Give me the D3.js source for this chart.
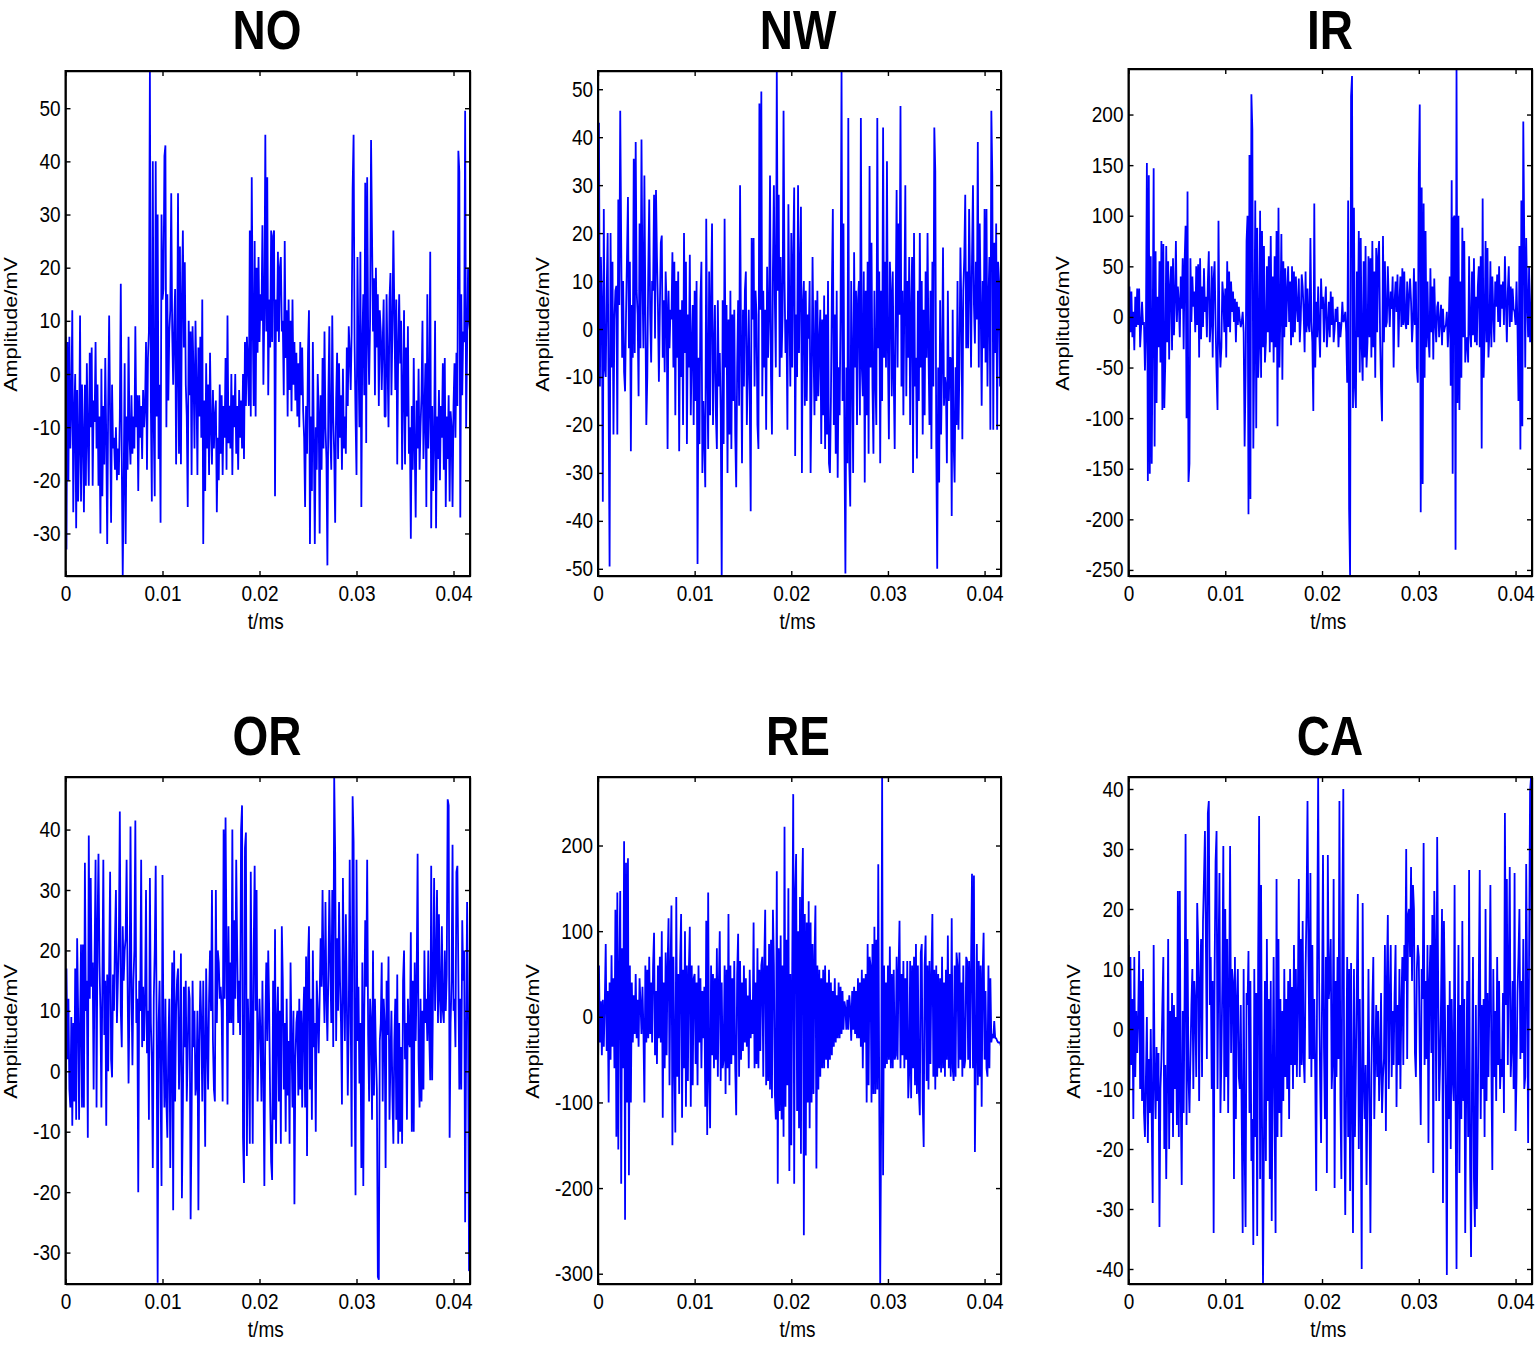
<!DOCTYPE html>
<html lang="en">
<head>
  <meta charset="UTF-8">
  <title>Vibration signals</title>
  <script src="https://d3js.org/d3.v7.min.js"></script>
  <style>
    body { margin: 0; background: #fff; }
    svg { display: block; font-family: "Liberation Sans", Arial, sans-serif; }
    .tick line, .domain { stroke: #000; stroke-width: 1.4px; }
  </style>
</head>
<body>
  <svg id="chart" width="1536" height="1345"></svg>
  <script>
    // one row = 0.001 ms
    const noValues = [
      7,-33,6,-20,7,-14,-6,12,-26,-8,
      0,-29,-3,-24,-14,11,-24,-2,-12,-26,
      -2,-21,2,-12,-21,4,-10,5,-21,-5,
      -9,6,-14,-2,-21,-8,-30,1,-23,-6,
      -17,3,-12,-32,-6,11,-8,-28,-2,-14,
      -12,-18,-10,-20,-14,-19,-8,17,-16,-38,
      -20,2,-32,-8,-18,7,-12,-17,-4,-15,
      -8,-14,9,-10,-4,-22,-4,-12,-6,-16,
      -3,-10,-6,6,-18,3,8,57,-6,-24,
      40,-10,-23,40,-8,30,-16,-2,-28,30,
      14,16,41,43,-10,15,-5,8,12,34,
      8,-2,9,16,-17,0,34,-15,24,-17,
      14,27,5,21,-2,-8,-25,10,-4,8,
      -19,9,0,-14,10,-2,-19,5,-8,7,
      -12,14,-32,-5,-22,2,-14,-2,-19,4,
      -10,-17,-3,-14,-8,-5,-26,-12,-20,-2,
      -15,-4,-19,-6,-12,3,-18,11,-13,-6,
      -14,0,-19,-4,-10,0,-15,-6,-18,-3,
      -12,-5,-14,0,-16,6,-6,7,2,-6,
      27,-8,37,10,-6,25,-8,20,4,22,
      6,15,10,28,-2,12,45,8,37,-4,
      14,5,27,6,26,27,-23,14,8,23,
      6,20,22,8,10,-4,25,3,12,-8,
      14,-3,10,-7,14,-2,6,-5,4,-8,
      2,-10,6,-4,5,-7,-12,-25,-6,-15,
      4,12,-32,-8,-22,6,-12,-32,-10,-18,
      0,-7,-30,-4,-18,3,-14,8,-10,-16,
      -36,-4,9,-12,-18,11,-8,-15,-28,-5,
      4,-16,2,-12,-4,-18,1,-14,-8,-15,
      5,-6,9,4,-3,8,35,45,6,-8,
      -19,22,4,-10,23,-25,6,15,-4,36,
      -13,37,8,-2,10,44,26,8,18,-4,
      20,5,15,-6,12,8,-3,6,14,-8,
      -8,15,2,-10,14,19,-4,8,27,12,
      -3,14,-17,5,15,2,10,-18,-4,12,
      -17,5,-8,9,-15,-10,-31,-6,-18,3,
      -14,-27,-5,-14,1,-18,-10,-4,10,-16,
      -8,2,-25,15,-14,-6,23,-29,-6,-22,
      -12,10,-29,-8,-16,-3,-20,-6,-12,2,
      -18,3,-25,-8,-16,-4,-24,-7,-10,-25,
      -6,2,-12,4,-6,42,38,-27,15,-4,
      8,6,49.5,-10,5,20,10,8,9,8
    ];

    const nwValues = [
      20,43,-12,15,5,-36,25,-8,-10,8,
      20,-15,-49.5,20,-8,14,-22,2,8,9,
      -22,27,5,45.5,18,-6,10,-9,-13,3,
      15,27.5,-4,14,-25.5,5,-6,35.5,-5,39,
      8,3,-14,22,-4,39.5,10,-4,32,5,
      -20,-10,12,27,3,-7,10,8,28,-2,
      29,15,5,-11,4,18,19.5,-6,6,-9,
      12,5,-25,8,-4,4,2,16,-8,14,
      -18,10,-6,12,-25.5,4,-10,6,-20,20,
      -5,14,-24,3,-8,15.5,-18,-4,5,-20,
      8,-15,10,-49,-6,-24,6,14,-30,-15,
      -23,-33,23,-8,-25,12,-18,6,22,-20,
      -5,5,-18,-25,6,-12,-5,-18,-52,6,
      -24,23,-8,5,-30,2,-22,8,-25,3,
      -15,4,-22,-33,-8,6,-16,30,-3,-28,
      4,-12,8,12,-20,-8,4,-14,-38,19,
      2,19,-12,8,3,-20,-25,47,4,49.5,
      -14,8,-8,4,-21,13,-6,3,32,-10,
      -22,12,30,6,-8,54,8,28,-10,15,
      -6,3,45.5,10,-5,2,-21,26,4,-12,
      20,-8,15,29.5,-26.5,3,-10,30,-5,12,
      25.5,-30,5,10,-16,8,-15,3,-2,10,
      -30,-12,15,-4,-18,6,-15,8,-14,-3,
      4,-24,2,-18,7,-25,3,-22,10,-28,
      -30,-15,8,25,-20,3,-26,8,-31,-8,
      -18,4,54,-15,22,-24,-51,-8,-28,44,
      -28,-37,10,-6,-30,16,-8,8,-20,6,
      10,-18,44,-8,-14,12,-32,8,-18,14,
      -26,34,-8,18,-12,-26,8,-10,-20,44,
      -4,12,-28,8,-15,42,-6,14,-8,35,
      -5,-23,14,8,-14,12,-10,-25,4,29,
      -8,22,3,46.5,-12,8,-18,6,30,-14,
      10,-6,15,-20,4,15,-30,20,-12,-6,
      -27,8,-15,20,-8,10,-22,4,-18,12,
      -6,20,-5,-20,8,-25,14,-12,42,33,
      -24,-50,-8,-32,6,-22,-8,17,-16,-10,
      -12,-28,8,-15,-6,-6,-39,4,-24,-32,
      -8,-20,10,-21,-8,17,4,-23,8,15,
      28,-4,12,-4,25,10,-8,15,30,5,
      -3,14,2,39,-8,22,5,-16,10,-4,
      25,-7,25,-12,6,15,-21,45.5,32,-21,
      18,-5,22,-21,14,10,-12,5,-8,-21
    ];

    const irValues = [
      -32,30,-15,25,-20,5,-33,20,-10,28,
      -8,28,-30,-10,15,-8,-5,-53,-12,152,
      -162,140,-155,60,-145,-12,147,-128,65,-85,
      20,-30,55,-45,75,-92,72,-90,-45,70,
      -25,55,-42,30,50,-33,58,-18,18,75,
      -5,30,15,-20,40,8,58,-32,55,90,
      -100,124,-163,-145,58,-5,40,10,25,-15,
      50,-8,52,-40,58,-22,30,-10,48,5,
      20,-20,35,65,-25,-5,50,-40,38,55,
      -8,-55,-92,95,-20,-50,-30,35,20,-15,
      28,-40,55,-10,45,-15,35,5,25,-5,
      18,-25,15,-8,10,-3,-10,-5,5,-15,
      -128,-58,75,100,-195,160,-180,220,185,-130,
      -30,115,-110,88,-60,-30,105,-60,85,-30,
      70,-45,-25,50,-15,60,-35,80,-25,40,
      -45,60,-30,85,-108,108,-50,5,82,-62,
      55,-20,48,-10,25,50,-5,35,-28,50,
      -20,45,-15,40,10,-5,38,-25,-3,42,
      30,5,-35,45,-15,28,-8,-15,78,-5,
      -25,-93,112,-50,15,-20,30,-12,-40,38,
      8,20,-25,12,30,-30,-10,15,-20,25,
      -8,20,-25,-12,8,-5,10,-30,-5,-20,
      -8,15,-5,-3,5,-15,-65,115,-190,-255,
      218,238,-90,108,-70,-90,45,-20,85,-55,
      78,-30,-63,55,-40,70,-50,-25,60,-20,
      58,-40,75,-30,45,-60,68,-15,60,75,
      -20,-70,-103,80,-25,55,-10,-5,50,15,
      -10,25,8,40,-50,15,35,5,42,-30,
      15,40,-10,48,-8,45,-5,-12,35,-8,
      20,38,15,-25,-5,48,-8,35,-50,-65,
      142,210,-193,128,-165,112,-60,85,-30,35,
      -20,-40,48,-15,30,-42,38,-5,-25,10,
      15,-20,-5,12,-28,8,-15,-10,-8,5,
      -30,-5,40,-68,135,-155,98,100,-230,245,
      -85,100,-92,35,-60,88,-20,75,-45,-25,
      -20,-45,60,-15,-30,45,-18,58,-25,20,
      -28,30,50,-30,60,-130,117,-60,-15,75,
      -25,68,-40,-15,55,-30,40,5,-25,35,
      10,42,-5,50,-10,32,8,35,-8,60,
      15,-25,25,50,-10,30,-5,28,8,5,
      -8,35,-10,-83,70,-131,115,-108,193,75,
      -50,78,15,-20,50,-25,-5,48,-10,45
    ];

    const orValues = [
      -3,17,2,12,-3,-6,9,-9,8,-5,
      17,-8,22,10,-8,8,21,-6,21,-6,
      34.5,10,15,-11,39,12,32,14,18,-3,
      19,35,-6,24,36,18,10,-6,15,35,
      6,15,-9,16,0,17,33,2,-1,16,
      10,22,30,8,15,22,43,10,4,24,
      15,20,22,35,15,-2,12,40.5,14,1,
      15,20,41.5,8,12,-20,15,10,35,4,
      14,5,12,30,3,10,-8,32,8,2,
      -16,12,20,34,6,-35,8,15,-2,-19,
      32.5,5,-6,12,-5,-11,4,12,-16,3,
      18,-23,20,-5,10,15,17,-3,5,19.5,
      -21,-6,14,4,15,-5,3,14,12,-24.5,
      -8,15,4,10,-4,-2,10,-23,5,15,
      8,-5,15,3,-12.5,17,5,-3,12,20,
      10,30,5,-3,-5,30,8,20,18,12,
      14,10,-5,40,12,42,20,-5.5,24,8,
      18,8,40,6,25,12,35,20,8,15,
      6,40,44,-11,-18.5,37,39.5,-14,12,5,
      -12,33,8,-12,20,34,10,30,-5,4,
      12,6,-5,15,0,-19,8,18,5,20,
      10,-5,-15,-18,15,-8,23.5,-12,8,14,
      -5,10,-12,24,15,-3,8,-10,12,-4,
      5,-12,18,5,-6,10,-22,2,8,10,
      -4,12,-3,10,-6,8,14,-6,19,-14,
      18,24,-3,12,-8,20,4,8,-10,15,
      10,3,12,22,14,30,16,8,28,12,
      5,16,30,18,8,30,4,48.7,36,5,
      22,10,28,15,8,-5.5,32,14,5,26,
      12,-4,8,35,10,-12.5,45.5,38,1,-20.5,
      35,5,14,-2,8,-16,18,-19,10,25,
      14,35,6,-5,12,8,-8,20,-4,12,
      3,-3,-34,-34.5,5,8,18,-5,12,8,
      -16,15,6,19,-8,2,10,-4,-12,5,
      12,-8,16,-12,8,-10,4,-12,15,20,
      2,8,-8,12,5,4,23,-10,15,-10,
      18,5,15,36,2,-6,12,-5,10,-3,
      20,8,12,5,20,6,-1.5,34,-1.5,15,
      32,10,18,30,8,26,12,8,24,10,
      8,20,10,16,45,44,-11,8,15,37.5,
      10,12,4,33,34,16,-3,12,-3,25,
      15,20,-25,5,28,10,-33,-33,-25,-20
    ];

    const reValues = [
      -60,60,-30,18,-45,20,-35,15,85,-40,
      30,-100,40,-50,72,-35,45,-60,125,-140,
      145,-155,50,147,-195,80,-60,205,-237,180,
      -100,185,-185,60,-100,40,-30,25,-20,50,
      -25,20,-35,45,15,-20,35,-15,-100,60,
      -30,55,-25,70,-20,40,-30,60,98,-45,
      30,-55,60,-25,70,-30,100,-118,40,-60,
      75,-45,60,115,-80,55,130,-150,70,-50,
      -135,140,-70,50,-90,65,120,-118,55,-60,
      100,-105,60,-75,55,105,-105,60,-80,45,
      50,-55,40,-80,60,-30,45,-60,30,-25,
      35,-105,112,-138,145,-70,-130,60,-45,50,
      -60,45,-50,80,-70,35,100,-75,40,-60,
      -50,60,-90,55,-60,120,-80,60,-55,45,
      -45,65,-60,-115,50,97,-70,65,-50,40,
      -40,60,-30,45,-35,25,-60,55,-25,20,
      -20,110,-60,40,-55,80,-60,55,-40,60,
      70,-70,60,125,-80,60,-75,85,-85,90,
      -95,125,60,-90,-120,170,-195,80,-110,95,
      -120,60,-140,222,-105,90,-80,150,-180,50,
      -150,60,260,-195,145,190,-110,100,-130,140,
      -160,135,197,-255,120,-162,110,-100,135,-130,
      110,-100,85,-90,70,130,-177,60,-85,55,
      -70,45,-60,55,-60,60,-50,40,-60,55,
      -50,40,-45,30,-35,45,-30,25,-25,40,
      -25,35,-20,30,-15,18,10,-15,20,-15,
      25,10,-28,30,-15,35,-20,30,-25,45,
      -25,40,-35,55,-60,45,-30,50,-100,85,
      -80,70,60,-100,85,-90,105,-90,90,-85,
      178,-90,-312,-120,280,-185,60,-60,40,-55,
      60,-50,82,-60,50,-60,55,-50,-45,70,
      -50,55,112,-60,50,-45,65,-60,45,-50,
      65,-95,-65,65,-95,60,-60,70,-80,85,
      -90,60,-85,-115,75,85,-100,-152,60,95,
      -75,60,-85,65,-55,50,120,-70,55,-85,
      60,-70,50,-60,45,-65,70,-60,40,-70,
      55,-50,95,-60,50,-70,115,-60,-75,60,
      -70,75,60,-60,75,-50,40,-70,60,-60,
      -50,70,65,-50,65,-60,60,167,-60,165,
      -158,-50,85,-80,65,-70,60,-105,50,98,
      -50,30,-60,-70,60,-60,45,-30,-20,-25,
      -5,-25,-25,-28,-30,-30,-30,-35,-40,-50
    ];

    const caValues = [
      14,-10,12,-6,5,-15,12,-8,3,-4,
      2,13,-10,8,-12,10,-14,-18,-8,2,
      -19,-5,-14,0,-15,-29,14,-8,-15,-3,
      -12,-4,-33,-10,-5,4,12,-20,-6,-25,
      -8,15,-20,3,-14,6,-18,4,-10,2,
      -16,23,-18,23,-12,-26,3,-14,6,32.5,
      -16,15,-8,-14,-5,4,10,-10,8,4,
      -8,21,14,-12,8,15,-8,18,25,33,
      14,-5,36,38,4,12,-10,8,-34,10,
      28,33,-10,12,26,-14,-5,8,30.5,-12,
      20,-8,15,-14,6,30.5,-4,10,8,-25,
      12,-15,5,10,-8,-10,4,-15,-34,10,
      -20,-33,6,4,13,-14,8,-22,-15,-36,
      10,-18,6,-34.5,12,35.5,-25,24,-15,-43,
      -18,8,-22,15,-12,5,-25,8,-32,-8,
      12,-15,-34,25,-18,15,-14,5,-18,3,
      -12,10,-8,5,-10,8,-15,10,-6,7,
      -10,14,-6,10,-8,5,25,-8,15,-6,
      18,-5,-9,10,20,38,12,-5,26,-8,
      14,-5,5,-8,-27,12,42,8,-8,-19,
      5,29,-3,-15,12,-24,29,5,8,15,
      -10,-5,25,-26.5,8,-8,12,-5,38,-12,
      -25,19,40,-15,-31,-8,12,-18,10,-27,
      11,-12,-34,10,-18,-6,8,22.5,-20,5,
      -12,-40,21,-8,-15,-6,-26,-10,10,-12,
      -34,-8,4,12,-15,-5,4,-8,3,-12,
      -6,6,-14,-8,-5,14,-17,8,19,-10,
      5,14,-8,3,-6,6,14,-13,4,-6,
      10,-10,4,12,-6,14,8,30,-5,19,
      20,12,27,8,24,20,-4,-8,10,14,
      12,-4,-16,10,5,31,-6,8,-5,14,
      -19,8,14,-4,19,-24,23,12,-12,32,
      8,-12,-6,5,20,-29,18,4,-12,-41,
      4,-15,8,-20,5,-8,-12,24,-12,-40,
      -6,14,-24,4,-15,18,-12,5,-34,-10,
      8,-18,26.5,-22,-38,-8,12,-25,-33,4,
      -30,-12,8,26.5,-15,4,-10,5,-18,20,
      -12,6,-8,5,24,-6,-23.5,10,-8,3,
      -12,12,-6,8,-10,-5,-8,6,-14,36,
      4,25,-6,10,27,-8,-3,8,-10,26,
      -17,-8,6,12,20,-5,8,-4,15,-10,
      -8,27.5,8,-19,13,39.5,42,-22,12,-5
    ];

    // matlab style axes, one per signal
    const panelNames = ["NO", "NW", "IR", "OR", "RE", "CA"];
    const panelValues = [noValues, nwValues, irValues, orValues, reValues, caValues];
    const yDomains = [[-38, 57], [-51.5, 53.8], [-256, 245], [-35.2, 48.7], [-312, 280], [-42.5, 42]];
    const yTicks = [
      [-30, -20, -10, 0, 10, 20, 30, 40, 50],
      [-50, -40, -30, -20, -10, 0, 10, 20, 30, 40, 50],
      [-250, -200, -150, -100, -50, 0, 50, 100, 150, 200],
      [-30, -20, -10, 0, 10, 20, 30, 40],
      [-300, -200, -100, 0, 100, 200],
      [-40, -30, -20, -10, 0, 10, 20, 30, 40]
    ];
    const xTicks = [0, 0.01, 0.02, 0.03, 0.04];
    const xDomain = [0, 0.0417];
    const sampleStep = 0.0001;

    const boxes = [
      {x0: 65.5, x1: 470, y0: 71, y1: 576, titleX: 267, titleY: 49, labelX: 17},
      {x0: 598, x1: 1001, y0: 71, y1: 576, titleX: 798, titleY: 49, labelX: 549},
      {x0: 1128.5, x1: 1532, y0: 69, y1: 576, titleX: 1330, titleY: 49, labelX: 1069},
      {x0: 65.5, x1: 470, y0: 777, y1: 1284, titleX: 267, titleY: 755, labelX: 17},
      {x0: 598, x1: 1001, y0: 777, y1: 1284, titleX: 798, titleY: 755, labelX: 539},
      {x0: 1128.5, x1: 1532, y0: 777, y1: 1284, titleX: 1330, titleY: 755, labelX: 1080}
    ];

    // the source figure was stretched vertically, so the text is too
    const stretch = "scale(1,1.2)";
    const labelStretch = "scale(1,1.14)";
    const svg = d3.select("#chart");

    panelNames.forEach((name, i) => {
      const box = boxes[i];
      const x = d3.scaleLinear().domain(xDomain).range([box.x0, box.x1]);
      const y = d3.scaleLinear().domain(yDomains[i]).range([box.y1, box.y0]);
      const g = svg.append("g");

      g.append("clipPath").attr("id", "clip" + i)
        .append("rect")
        .attr("x", box.x0).attr("y", box.y0)
        .attr("width", box.x1 - box.x0).attr("height", box.y1 - box.y0);

      const line = d3.line()
        .x((d, j) => x(j * sampleStep))
        .y(d => y(d));

      g.append("path")
        .datum(panelValues[i])
        .attr("clip-path", "url(#clip" + i + ")")
        .attr("fill", "none")
        .attr("stroke", "#0000ff")
        .attr("stroke-width", 1.8)
        .attr("stroke-linejoin", "bevel")
        .attr("d", line);

      // ticks point inwards on all four sides
      const bottom = g.append("g").attr("transform", "translate(0," + box.y1 + ")")
        .call(d3.axisBottom(x).tickValues(xTicks).tickSizeInner(-5).tickSizeOuter(0).tickFormat(d => d === 0 ? "0" : d3.format(".2f")(d)));
      const left = g.append("g").attr("transform", "translate(" + box.x0 + ",0)")
        .call(d3.axisLeft(y).tickValues(yTicks[i]).tickSizeInner(-5).tickSizeOuter(0).tickFormat(d => String(d)));
      g.append("g").attr("transform", "translate(0," + box.y0 + ")")
        .call(d3.axisTop(x).tickValues(xTicks).tickSizeInner(-5).tickSizeOuter(0).tickFormat(""));
      g.append("g").attr("transform", "translate(" + box.x1 + ",0)")
        .call(d3.axisRight(y).tickValues(yTicks[i]).tickSizeInner(-5).tickSizeOuter(0).tickFormat(""));

      bottom.selectAll("text")
        .attr("y", 0).attr("dy", 0)
        .attr("transform", "translate(0,25) " + stretch)
        .style("font-size", "19px").style("font-family", "Liberation Sans").attr("fill", "#000");
      left.selectAll("text")
        .attr("x", 0).attr("dy", 0)
        .attr("transform", "translate(-5,7) " + stretch)
        .style("font-size", "19px").style("font-family", "Liberation Sans").attr("fill", "#000");

      g.append("rect")
        .attr("x", box.x0).attr("y", box.y0)
        .attr("width", box.x1 - box.x0).attr("height", box.y1 - box.y0)
        .attr("fill", "none").attr("stroke", "#000").attr("stroke-width", 2);

      g.append("text")
        .attr("transform", "translate(" + box.titleX + "," + box.titleY + ") " + stretch)
        .attr("text-anchor", "middle")
        .style("font-size", "46px").style("font-weight", "bold")
        .text(name);

      g.append("text")
        .attr("transform", "translate(" + ((box.x0 + box.x1) / 2 - 2) + "," + (box.y1 + 53) + ") " + stretch)
        .attr("text-anchor", "middle")
        .style("font-size", "19px")
        .text("t/ms");

      g.append("text")
        .attr("transform", "translate(" + box.labelX + "," + ((box.y0 + box.y1) / 2 + 1) + ") " + labelStretch + " rotate(-90)")
        .attr("text-anchor", "middle")
        .style("font-size", "19px")
        .text("Amplitude/mV");
    });
  </script>
</body>
</html>
